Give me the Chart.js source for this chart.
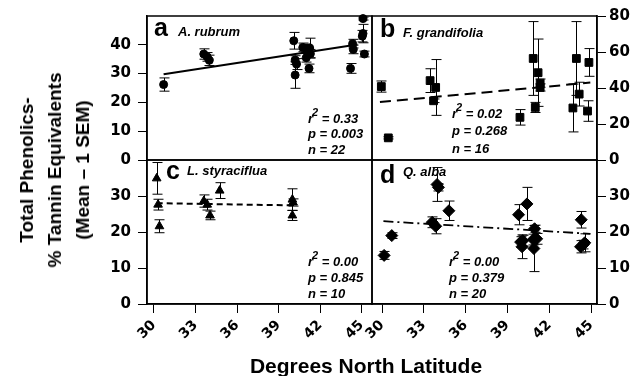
<!DOCTYPE html>
<html><head><meta charset="utf-8">
<script src="https://cdn.jsdelivr.net/npm/chart.js@4/dist/chart.umd.min.js"></script>
<style>
html,body{margin:0;padding:0;background:#fff;}
#wrap{position:relative;width:644px;height:376px;overflow:hidden;}
#c{position:absolute;left:0;top:0;}
.ttl{position:absolute;font-family:"Liberation Sans",Arial,sans-serif;font-weight:bold;color:#000;white-space:nowrap;}
#ytitle{left:55px;top:170px;transform:translate(-50%,-50%) rotate(-90deg);text-align:center;font-size:19px;line-height:28px;}
#xtitle{left:366px;top:366px;transform:translate(-50%,-50%);font-size:21px;}
</style></head><body>
<div id="wrap">
<canvas id="c" width="644" height="376"></canvas>
<div class="ttl" id="ytitle">Total Phenolics-<br>% Tannin Equivalents<br>(Mean – 1 SEM)</div>
<div class="ttl" id="xtitle">Degrees North Latitude</div>
</div>
<script>
// ---- data ----
const latA = [30.7, 33.6, 33.85, 34.0, 40.1, 40.2, 40.3, 40.2, 40.75, 41.0, 41.25, 41.1, 41.3, 41.0, 41.2, 44.2, 44.35, 44.4, 45.1, 45.1, 45.05, 45.2];
const valA = [26.2, 36.8, 35.8, 34.6, 41.4, 34.7, 33.3, 29.5, 39.1, 38.7, 38.9, 37.5, 36.9, 35.5, 31.8, 31.8, 40.4, 38.4, 49.1, 43.9, 43.0, 36.8];
const errA = [2.3, 1.8, 1.5, 1.8, 2.9, 1.5, 1.9, 4.6, 1.5, 1.5, 3.4, 1.5, 1.5, 1.5, 1.5, 1.7, 1.5, 1.5, 0.5, 3.2, 2.0, 1.0];

const latB = [29.95, 30.45, 33.45, 33.85, 33.7, 40.85, 41.2, 41.35, 41.35, 41.0, 39.9, 43.95, 43.7, 44.15, 44.75, 44.85];
const valB = [40.8, 12.3, 44.1, 40.3, 32.9, 56.4, 48.5, 42.7, 40.3, 29.2, 23.7, 56.4, 28.9, 36.6, 27.2, 54.2];
const errB = [3.1, 0.6, 6.6, 15.5, 1.0, 20.5, 18.7, 2.3, 2.0, 2.8, 4.3, 20.5, 13.3, 6.6, 5.7, 7.7];

const latC = [30.2, 30.3, 30.4, 33.6, 33.85, 34.05, 34.75, 40.0, 40.05, 40.0];
const valC = [34.9, 27.6, 21.6, 28.6, 27.6, 24.6, 31.5, 29.0, 28.2, 24.6];
const errC = [4.4, 1.5, 1.8, 1.7, 1.5, 1.2, 2.2, 3.0, 1.0, 1.4];

const latD = [30.15, 30.7, 33.95, 34.05, 33.6, 33.85, 34.8, 39.8, 40.4, 39.95, 40.05, 40.95, 40.85, 41.1, 40.9, 44.3, 44.25, 44.55, 40.1, 44.45];
const valD = [13.5, 19.0, 33.2, 32.4, 22.7, 21.6, 25.9, 24.8, 27.8, 17.2, 15.9, 20.9, 17.9, 18.1, 15.4, 23.4, 15.9, 17.0, 17.6, 16.5];
const errD = [1.1, 0.8, 4.7, 1.0, 1.5, 2.1, 2.7, 2.8, 4.6, 1.5, 3.3, 1.0, 1.5, 1.5, 6.4, 2.3, 1.7, 2.5, 1.5, 1.2];

// regression lines (end points)
const fitLatA = [30.7, 44.7],  fitValA = [29.8, 40.1];
const fitLatB = [29.85, 44.95], fitValB = [32.2, 43.0];
const fitLatC = [30.2, 40.0],  fitValC = [28.0, 27.4];
const fitLatD = [30.1, 44.95], fitValD = [23.0, 19.5];

// tick labels
const latTicks = [30, 33, 36, 39, 42, 45];
const ticksA = [0, 10, 20, 30, 40];
const ticksB = [0, 20, 40, 60, 80];
const ticksC = [0, 10, 20, 30];
const ticksD = [0, 10, 20, 30];

// panel texts
const panelLetters = ['a', 'b', 'c', 'd'];
const speciesNames = ['A. rubrum', 'F. grandifolia', 'L. styraciflua', 'Q. alba'];
const statR2 = ['0.33', '0.02', '0.00', '0.00'];
const statP = ['0.003', '0.268', '0.845', '0.379'];
const statN = ['22', '16', '10', '20'];

// ---- chart ----
const black = '#000';
function pts(xs, ys) { return xs.map((x, i) => ({ x: x, y: ys[i] })); }

const tickFont = { family: '"DejaVu Sans", sans-serif', weight: 'bold', size: 15 };
const xTickFont = { family: '"DejaVu Sans", sans-serif', weight: 'bold', size: 14 };

function yAxis(pos, min, max, ticks, width, pad) {
  return {
    type: 'linear', position: pos, stack: pos, min: min, max: max,
    afterBuildTicks: s => { s.ticks = ticks.map(v => ({ value: v })); },
    afterFit: s => { s.width = width; },
    grid: { drawOnChartArea: false, drawTicks: true, tickLength: 9, color: black, lineWidth: 1 },
    border: { display: true, color: black, width: 1.5 },
    ticks: { color: black, font: tickFont, padding: pad }
  };
}
function xAxis(min, max) {
  return {
    type: 'linear', position: 'bottom', stack: 'bottom', min: min, max: max,
    afterBuildTicks: s => { s.ticks = latTicks.map(v => ({ value: v })); },
    afterFit: s => { s.height = 72; },
    grid: { drawOnChartArea: false, drawTicks: true, tickLength: 9, color: black, lineWidth: 1 },
    border: { display: true, color: black, width: 1.5 },
    ticks: { color: black, font: xTickFont, minRotation: 45, maxRotation: 45, autoSkip: false, padding: 4 }
  };
}

function scat(lat, val, err, xId, yId, style, r) {
  return { data: pts(lat, val), errors: err, xAxisID: xId, yAxisID: yId, pointStyle: style,
    pointRadius: r, pointHoverRadius: r, backgroundColor: black, borderColor: black, pointBorderWidth: 1,
    showLine: false, clip: false };
}
function fit(lat, val, xId, yId, dash, w) {
  return { data: pts(lat, val), xAxisID: xId, yAxisID: yId, showLine: true, pointRadius: 0,
    borderColor: black, borderWidth: w, borderDash: dash, fill: false, clip: false };
}

const panels = [
  { x: 'xL', y: 'yA', letterDx: 7, letterDy: 20, spDx: 31, spDy: 20, stDx: 161, stDy: [106.5, 122, 137.7] },
  { x: 'xR', y: 'yB', letterDx: 8, letterDy: 21, spDx: 31, spDy: 21, stDx: 80,  stDy: [102, 118.7, 136.7] },
  { x: 'xL', y: 'yC', letterDx: 19, letterDy: 18.5, spDx: 40, spDy: 15, stDx: 161, stDy: [106, 121.7, 137.7] },
  { x: 'xR', y: 'yD', letterDx: 8, letterDy: 22.5, spDx: 31, spDy: 16, stDx: 77, stDy: [106, 121.7, 137.7] }
];

const panelPlugin = {
  id: 'panelPlugin',
  beforeDatasetsDraw(chart) {
    const c = chart.ctx;
    c.save();
    c.strokeStyle = black; c.lineWidth = 1;
    chart.data.datasets.forEach((ds, di) => {
      if (!ds.errors) return;
      const meta = chart.getDatasetMeta(di);
      const xs = meta.xScale, ys = meta.yScale;
      ds.data.forEach((p, i) => {
        const e = ds.errors[i];
        const px = Math.round(xs.getPixelForValue(p.x)) + 0.5;
        const y1 = ys.getPixelForValue(p.y - e), y2 = ys.getPixelForValue(p.y + e);
        c.beginPath();
        c.moveTo(px, y1); c.lineTo(px, y2);
        c.moveTo(px - 5, y1); c.lineTo(px + 5, y1);
        c.moveTo(px - 5, y2); c.lineTo(px + 5, y2);
        c.stroke();
      });
    });
    c.restore();
  },
  afterDatasetsDraw(chart) {
    const c = chart.ctx;
    c.save();
    c.fillStyle = black; c.strokeStyle = black; c.textBaseline = 'alphabetic'; c.textAlign = 'left';
    panels.forEach((p, k) => {
      const xs = chart.scales[p.x], ys = chart.scales[p.y];
      const L = xs.left, R = xs.right, T = ys.top, B = ys.bottom;
      c.lineWidth = 1.5;
      c.strokeRect(L, T, R - L, B - T);
      c.font = 'bold 25px "Liberation Sans", Arial, sans-serif';
      c.fillText(panelLetters[k], L + p.letterDx, T + p.letterDy);
      c.font = 'italic bold 13px "Liberation Sans", Arial, sans-serif';
      c.fillText(speciesNames[k], L + p.spDx, T + p.spDy);
      const sx = L + p.stDx;
      c.font = 'italic bold 13px "Liberation Sans", Arial, sans-serif';
      c.fillText('r', sx, T + p.stDy[0]);
      const rw = c.measureText('r').width;
      c.font = 'italic bold 11px "Liberation Sans", Arial, sans-serif';
      c.fillText('2', sx + rw - 1, T + p.stDy[0] - 7);
      const tw = c.measureText('2').width;
      c.font = 'italic bold 13px "Liberation Sans", Arial, sans-serif';
      c.fillText(' = ' + statR2[k], sx + rw + tw - 1, T + p.stDy[0]);
      c.fillText('p = ' + statP[k], sx, T + p.stDy[1]);
      c.fillText('n = ' + statN[k], sx, T + p.stDy[2]);
    });
    c.restore();
  }
};

new Chart(document.getElementById('c'), {
  type: 'scatter',
  data: {
    datasets: [
      scat(latA, valA, errA, 'xL', 'yA', 'circle', 4),
      scat(latB, valB, errB, 'xR', 'yB', 'rect', 5.5),
      scat(latC, valC, errC, 'xL', 'yC', 'triangle', 5),
      scat(latD, valD, errD, 'xR', 'yD', 'rectRot', 6),
      fit(fitLatA, fitValA, 'xL', 'yA', [], 2),
      fit(fitLatB, fitValB, 'xR', 'yB', [11, 6], 2),
      fit(fitLatC, fitValC, 'xL', 'yC', [6, 4], 2),
      fit(fitLatD, fitValD, 'xR', 'yD', [10, 4, 2, 4], 1.8)
    ]
  },
  options: {
    responsive: false,
    animation: false,
    devicePixelRatio: 1,
    layout: { padding: { top: 14, left: 0, right: 0, bottom: 0 } },
    plugins: { legend: { display: false }, tooltip: { enabled: false } },
    scales: {
      xL: xAxis(29.5, 45.75),
      xR: xAxis(29.28, 45.43),
      yC: yAxis('left', 0, 40, ticksC, 147, 7),
      yA: yAxis('left', 0, 50, ticksA, 147, 7),
      yB: yAxis('right', 0, 80, ticksB, 47, 3),
      yD: yAxis('right', 0, 40, ticksD, 47, 3)
    }
  },
  plugins: [panelPlugin]
});
</script>
</body></html>
